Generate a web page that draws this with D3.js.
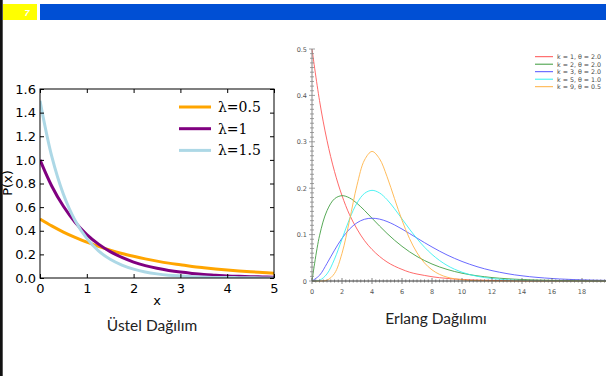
<!DOCTYPE html>
<html><head><meta charset="utf-8">
<script src="https://cdn.jsdelivr.net/npm/d3@7"></script>
<style>body{margin:0;background:#fff}svg{display:block}</style>
</head><body>
<script>
// ---- Left chart: exponential pdf samples (x step 0.25) ----
const expX = [0,0.25,0.5,0.75,1,1.25,1.5,1.75,2,2.25,2.5,2.75,3,3.25,3.5,3.75,4,4.25,4.5,4.75,5];
const expL05 = [0.5,0.441,0.389,0.344,0.303,0.268,0.236,0.208,0.184,0.162,0.143,0.126,0.112,0.098,0.087,0.077,0.068,0.060,0.053,0.047,0.041];
const expL1  = [1,0.779,0.607,0.472,0.368,0.287,0.223,0.174,0.135,0.105,0.082,0.064,0.050,0.039,0.030,0.024,0.018,0.014,0.011,0.009,0.007];
const expL15 = [1.5,1.031,0.709,0.487,0.335,0.230,0.158,0.109,0.075,0.051,0.035,0.024,0.017,0.011,0.008,0.005,0.004,0.003,0.002,0.001,0.001];
const expNames = ["\u03bb=0.5","\u03bb=1","\u03bb=1.5"];
const expYTicks = [0,0.2,0.4,0.6,0.8,1.0,1.2,1.4,1.6];
const expXTicks = [0,1,2,3,4,5];

// ---- Right chart: Erlang pdf samples (x step 0.5, 0..20) ----
const erlX = d3.range(41).map(i => i * 0.5);
const erlK1 = [0.5,0.389,0.303,0.236,0.184,0.143,0.112,0.087,0.068,0.053,0.041,0.032,0.025,0.019,0.015,0.012,0.0092,0.0071,0.0056,0.0043,0.0034,0.0026,0.0020,0.0016,0.0012,0.0010,0.0008,0.0006,0.0005,0.0004,0.0003,0.0002,0.0002,0.0001,0.0001,0.0001,0.0001,0,0,0,0];
const erlK2 = [0,0.0974,0.1516,0.1771,0.1839,0.1791,0.1673,0.1521,0.1353,0.1186,0.1026,0.0879,0.0747,0.0630,0.0528,0.0441,0.0366,0.0303,0.0250,0.0205,0.0168,0.0138,0.0112,0.0092,0.0074,0.0060,0.0049,0.0040,0.0032,0.0026,0.0021,0.0017,0.0013,0.0011,0.0009,0.0007,0.0006,0.0004,0.0004,0.0003,0.0002];
const erlK3 = [0,0.0122,0.0379,0.0664,0.0920,0.1119,0.1255,0.1331,0.1353,0.1334,0.1283,0.1209,0.1120,0.1024,0.0925,0.0827,0.0733,0.0644,0.0562,0.0488,0.0421,0.0362,0.0309,0.0263,0.0223,0.0189,0.0159,0.0133,0.0112,0.0093,0.0078,0.0065,0.0054,0.0044,0.0037,0.0030,0.0025,0.0021,0.0017,0.0014,0.0011];
const erlK5 = [0,0.0016,0.0153,0.0471,0.0902,0.1336,0.1680,0.1888,0.1954,0.1898,0.1755,0.1558,0.1339,0.1118,0.0912,0.0729,0.0573,0.0443,0.0337,0.0254,0.0189,0.0139,0.0102,0.0074,0.0053,0.0038,0.0027,0.0019,0.0013,0.0009,0.0006,0.0004,0.0003,0.0002,0.0001,0.0001,0.0001,0,0,0,0];
const erlK9 = [0,0.0000,0.0017,0.0162,0.0595,0.1306,0.2065,0.2607,0.2792,0.2635,0.2252,0.1776,0.1310,0.0915,0.0609,0.0389,0.0240,0.0143,0.0083,0.0047,0.0026,0.0014,0.0008,0.0004,0.0002,0.0001,0.0001,0,0,0,0,0,0,0,0,0,0,0,0,0,0];
const erlNames = ["k = 1, \u03b8 = 2.0","k = 2, \u03b8 = 2.0","k = 3, \u03b8 = 2.0","k = 5, \u03b8 = 1.0","k = 9, \u03b8 = 0.5"];
const erlYTicks = [0,0.1,0.2,0.3,0.4,0.5];
const erlXTicks = [0,2,4,6,8,10,12,14,16,18];

const titles = ["\u00dcstel Da\u011f\u0131l\u0131m","Erlang Da\u011f\u0131l\u0131m\u0131"];
const slideNo = "7";

const W = 606, H = 376;
const svg = d3.select("body").append("svg").attr("width", W).attr("height", H);

// slide decorations
svg.append("rect").attr("x",0).attr("y",0).attr("width",2.7).attr("height",H).attr("fill","#111");
svg.append("rect").attr("x",3).attr("y",4).attr("width",34).attr("height",16).attr("fill","#ffff00");
svg.append("rect").attr("x",40).attr("y",4).attr("width",566).attr("height",16).attr("fill","#004fd4");
svg.append("text").attr("x",27).attr("y",16).attr("text-anchor","middle")
  .attr("font-family","Liberation Sans, Arial, sans-serif").attr("font-size",9).attr("font-weight","bold")
  .attr("font-style","italic").attr("fill","#fff").text(slideNo);

// ===== Left chart =====
const lx = d3.scaleLinear().domain([0,5]).range([40,274]);
const ly = d3.scaleLinear().domain([0,1.6]).range([278,89]);
const L = svg.append("g");
const clipL = svg.append("clipPath").attr("id","clipL");
clipL.append("rect").attr("x",40).attr("y",89).attr("width",234).attr("height",189);
const expColors = ["#FFA500","#800080","#ADD8E6"];
const expSeries = [expL05, expL1, expL15];
const lineL = d3.line().x((d,i)=>lx(expX[i])).y(d=>ly(d)).curve(d3.curveCatmullRom);
expSeries.forEach((s,i)=>{
  L.append("path").datum(s).attr("d",lineL).attr("fill","none")
   .attr("stroke",expColors[i]).attr("stroke-width",3).attr("clip-path","url(#clipL)");
});
L.append("rect").attr("x",40).attr("y",89).attr("width",234).attr("height",189)
 .attr("fill","none").attr("stroke","#000").attr("stroke-width",1);
const fontL = "DejaVu Sans, sans-serif";
const axB = d3.axisBottom(lx).tickValues(expXTicks).tickSize(-4).tickPadding(6).tickFormat(d3.format("d"));
const axL = d3.axisLeft(ly).tickValues(expYTicks).tickSize(-4).tickPadding(4).tickFormat(d3.format(".1f"));
const axT = d3.axisTop(lx).tickValues(expXTicks).tickSize(-4).tickFormat("");
const axR = d3.axisRight(ly).tickValues(expYTicks).tickSize(-4).tickFormat("");
[[axB,"translate(0,278)"],[axL,"translate(40,0)"],[axT,"translate(0,89)"],[axR,"translate(274,0)"]].forEach(([ax,t])=>{
  const g = L.append("g").attr("transform",t).call(ax);
  g.select(".domain").remove();
  g.selectAll("text").attr("font-family",fontL).attr("font-size",13).attr("fill","#000");
  g.selectAll("line").attr("stroke","#000");
});
L.append("text").attr("x",157).attr("y",305).attr("text-anchor","middle")
 .attr("font-family",fontL).attr("font-size",13).text("x");
L.append("text").attr("transform","translate(12,183) rotate(-90)").attr("text-anchor","middle")
 .attr("font-family",fontL).attr("font-size",13).text("P(x)");
expNames.forEach((n,i)=>{
  const y = 107 + i*21.7;
  L.append("line").attr("x1",179).attr("x2",211).attr("y1",y).attr("y2",y)
   .attr("stroke",expColors[i]).attr("stroke-width",3);
  L.append("text").attr("x",218).attr("y",y+5).attr("font-family","DejaVu Serif, serif")
   .attr("font-size",14).text(n);
});

// ===== Right chart =====
const rx = d3.scaleLinear().domain([0,20]).range([312,612]);
const ry = d3.scaleLinear().domain([0,0.5]).range([281,49]);
const R = svg.append("g");
const erlColors = ["#ff5050","#3a9a3a","#5050ff","#30f0f0","#ffb040"];
const erlSeries = [erlK1, erlK2, erlK3, erlK5, erlK9];
const lineR = d3.line().x((d,i)=>rx(erlX[i])).y(d=>ry(d)).curve(d3.curveCatmullRom);
erlSeries.forEach((s,i)=>{
  R.append("path").datum(s).attr("d",lineR).attr("fill","none")
   .attr("stroke",erlColors[i]).attr("stroke-width",1).attr("stroke-opacity",0.85);
});
const fontR = "DejaVu Sans, sans-serif";
R.append("line").attr("x1",312).attr("x2",312).attr("y1",ry(0.5)).attr("y2",ry(0)).attr("stroke","#888").attr("stroke-width",1);
d3.range(0,51).forEach(k=>{
  const v = k/100, major = k%10===0;
  R.append("line").attr("x1",312-(major?3:2)).attr("x2",312+(major?3:2))
   .attr("y1",ry(v)).attr("y2",ry(v)).attr("stroke","#888").attr("stroke-width",0.8);
});
R.selectAll(".ylab").data(erlYTicks).join("text")
 .attr("x",307).attr("y",d=>ry(d)+2.5).attr("text-anchor","end")
 .attr("font-family",fontR).attr("font-size",6.5).attr("fill","#555")
 .text(d=>d===0?"0":d3.format(".1f")(d));
R.append("line").attr("x1",312).attr("x2",606).attr("y1",281).attr("y2",281).attr("stroke","#333").attr("stroke-width",1);
d3.range(0,81).forEach(k=>{
  const v = k/4, major = k%8===0;
  R.append("line").attr("x1",rx(v)).attr("x2",rx(v)).attr("y1",281-(major?3:1.5)).attr("y2",281+(major?3:1.5))
   .attr("stroke","#666").attr("stroke-width",0.8);
});
R.selectAll(".xlab").data(erlXTicks).join("text")
 .attr("x",d=>rx(d)).attr("y",294).attr("text-anchor","middle")
 .attr("font-family",fontR).attr("font-size",6.5).attr("fill","#555").text(d=>d);
erlNames.forEach((n,i)=>{
  const y = 56.7 + i*7.5;
  R.append("line").attr("x1",535).attr("x2",553).attr("y1",y).attr("y2",y)
   .attr("stroke",erlColors[i]).attr("stroke-width",1);
  R.append("text").attr("x",557).attr("y",y+2.3).attr("font-family",fontR)
   .attr("font-size",6.3).attr("fill","#444").text(n);
});

// titles
svg.append("text").attr("x",152).attr("y",331).attr("text-anchor","middle")
 .attr("font-family","Lato, Open Sans, sans-serif").attr("font-size",15.5).attr("fill","#222").text(titles[0]);
svg.append("text").attr("x",436).attr("y",324).attr("text-anchor","middle")
 .attr("font-family","Lato, Open Sans, sans-serif").attr("font-size",15.5).attr("fill","#222").text(titles[1]);
</script>
</body></html>
